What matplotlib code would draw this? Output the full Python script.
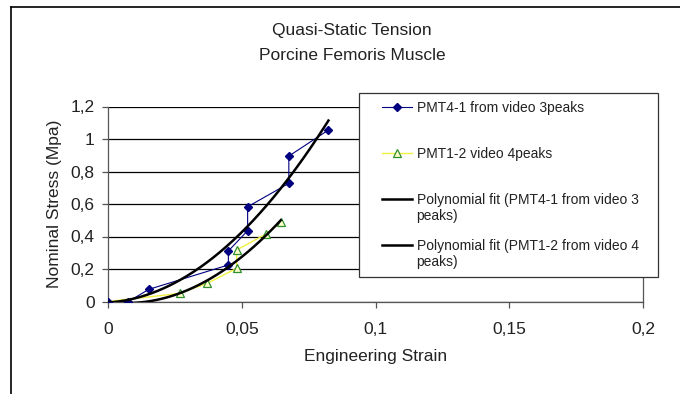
import numpy as np
import matplotlib
matplotlib.use("Agg")
import matplotlib.pyplot as plt
from matplotlib.lines import Line2D
from matplotlib.legend_handler import HandlerLine2D
from matplotlib.ticker import FuncFormatter

plt.rcParams['font.family'] = ['Liberation Sans', 'DejaVu Sans']

# ---- data ----
title_lines = ["Quasi-Static Tension", "Porcine Femoris Muscle"]
x_label = "Engineering Strain"
y_label = "Nominal Stress (Mpa)"

pmt41_strain = [0.0, 0.0076, 0.0153, 0.0450, 0.0450, 0.0522, 0.0522, 0.0676, 0.0676, 0.0824]
pmt41_stress = [0.0, 0.0, 0.075, 0.225, 0.311, 0.436, 0.583, 0.727, 0.895, 1.055]

pmt12_strain = [0.0, 0.0269, 0.0371, 0.0481, 0.0481, 0.0590, 0.0646]
pmt12_stress = [0.0, 0.050, 0.112, 0.204, 0.317, 0.415, 0.487]

series_labels = ["PMT4-1 from video 3peaks\n ",
                 "PMT1-2 video 4peaks\n ",
                 "Polynomial fit (PMT4-1 from video 3\npeaks)",
                 "Polynomial fit (PMT1-2 from video 4\npeaks)"]

x_ticks = [0, 0.05, 0.1, 0.15, 0.2]
y_ticks = [0, 0.2, 0.4, 0.6, 0.8, 1.0, 1.2]

# ---- figure ----
W, H = 680, 394
fig = plt.figure(figsize=(6.8, 3.94), dpi=100)
ax = fig.add_axes([108 / W, 1 - 301.5 / H, (643 - 108) / W, (301.5 - 106.5) / H])

text_color = '#222222'
fs = 12.5

# polynomial trendlines (order 2) from the data
fits = []
for xs, ys in ((pmt41_strain, pmt41_stress), (pmt12_strain, pmt12_stress)):
    c = np.polyfit(xs, ys, 2)
    xx = np.linspace(min(xs), max(xs), 200)
    fits.append((xx, np.polyval(c, xx)))

l1, = ax.plot(pmt41_strain, pmt41_stress, color='#000080', lw=0.8, marker='D',
              ms=4, mfc='#000080', mec='#000080', zorder=4)
l2, = ax.plot(pmt12_strain, pmt12_stress, color='#f0f040', lw=1.0, marker='^',
              ms=5.5, mfc='#ffffcc', mec='#2f8f2f', mew=0.9, zorder=3)
f1, = ax.plot(*fits[0], color='black', lw=1.8, zorder=5)
f2, = ax.plot(*fits[1], color='black', lw=1.8, zorder=5)

ax.set_xlim(0, 0.2)
ax.set_ylim(0, 1.2)
ax.set_xticks(x_ticks)
ax.set_yticks(y_ticks)

def comma_fmt(v, pos):
    s = f"{v:.2f}".rstrip('0').rstrip('.')
    return s.replace('.', ',')

ax.xaxis.set_major_formatter(FuncFormatter(comma_fmt))
ax.yaxis.set_major_formatter(FuncFormatter(comma_fmt))
ax.yaxis.grid(True, color='black', lw=0.9)
ax.set_axisbelow(True)
ax.spines['top'].set_visible(False)
for s in ['left', 'bottom', 'right']:
    ax.spines[s].set_color('#555555')
    ax.spines[s].set_linewidth(0.9)
ax.tick_params(axis='both', direction='out', length=4.2, width=0.9, color='#555555',
               labelsize=fs, labelcolor=text_color)
ax.tick_params(axis='y', pad=5.5)
ax.tick_params(axis='x', pad=10.5)
ax.set_xlabel(x_label, fontsize=fs, color=text_color, labelpad=9)
ax.set_ylabel(y_label, fontsize=fs, color=text_color, labelpad=6)

cx = 352 / W
fig.text(cx, 1 - 30 / H, title_lines[0], ha='center', va='center',
         fontsize=fs, color=text_color)
fig.text(cx, 1 - 55 / H, title_lines[1], ha='center', va='center',
         fontsize=fs, color=text_color)


class UpHandler(HandlerLine2D):
    def __init__(self, dy, seg, **kw):
        super().__init__(**kw)
        self.dy = dy
        self.seg = seg

    def create_artists(self, legend, orig_handle, xdescent, ydescent, width, height,
                       fontsize, trans):
        arts = super().create_artists(legend, orig_handle, xdescent, ydescent, width,
                                      height, fontsize, trans)
        for a in arts:
            x0 = -xdescent + width - self.seg
            a.set_xdata(np.linspace(x0, -xdescent + width, 3))
            a.set_ydata(np.asarray(a.get_ydata()) + self.dy)
        return arts

dy = 7.0
seg = 21.6
hmap = {h: UpHandler(dy, seg) for h in (l1, l2, f1, f2)}
leg = fig.legend([l1, l2, f1, f2], series_labels, loc='upper left',
                 bbox_to_anchor=(359 / W, 1 - 93 / H, (658 - 359) / W, 0.0),
                 bbox_transform=fig.transFigure, mode='expand',
                 handler_map=hmap, fontsize=10, frameon=True, fancybox=False,
                 edgecolor='#333333', framealpha=1, borderpad=0.55, handlelength=3.3,
                 handletextpad=0.3, labelspacing=1.15, labelcolor=text_color,
                 borderaxespad=0)
leg.get_frame().set_linewidth(0.9)

# outer chart border (left and top)
fig.add_artist(Line2D([11 / W, 11 / W], [0, 1 - 7 / H], transform=fig.transFigure,
                      color='black', lw=1.2))
fig.add_artist(Line2D([11 / W, 1], [1 - 7 / H, 1 - 7 / H], transform=fig.transFigure,
                      color='black', lw=1.2))

fig.savefig('out.png', dpi=100)
